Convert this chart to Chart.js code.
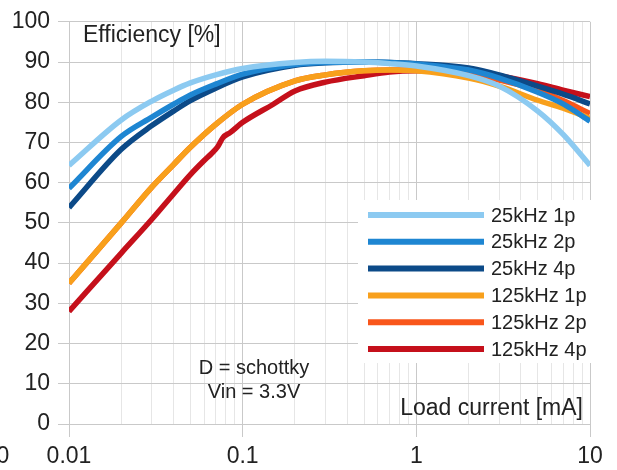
<!DOCTYPE html>
<html>
<head>
<meta charset="utf-8">
<script src="https://cdn.jsdelivr.net/npm/chart.js@4"></script>
<style>
  html, body { margin: 0; padding: 0; background: #fff; }
  canvas { display: block; }
</style>
</head>
<body>
<canvas id="eff" width="617" height="470"></canvas>
<script>
'use strict'

// load current [mA] (shared by most series)
const current = [0.01, 0.02, 0.03, 0.04, 0.05, 0.07, 0.1, 0.2, 0.3, 0.5, 0.7, 1, 2, 3, 5, 7, 10]

// efficiency [%]
const eff25k1p  = [64.3, 75.6, 80.3, 83.0, 84.8, 86.8, 88.4, 89.9, 90.2, 90.0, 89.6, 89.0, 86.6, 84.0, 77.8, 72.0, 64.3]
const eff25k2p  = [58.6, 71.5, 76.3, 79.5, 81.8, 84.5, 87.0, 89.4, 89.9, 90.0, 89.9, 89.5, 88.0, 86.0, 82.5, 79.6, 75.3]
const eff25k4p  = [53.8, 68.3, 74.2, 77.8, 80.4, 83.5, 86.3, 89.2, 89.8, 90.0, 89.9, 89.6, 88.5, 86.8, 84.0, 82.0, 79.6]
const eff125k1p = [35.0, 50.0, 58.9, 64.5, 68.8, 74.5, 79.5, 85.3, 86.8, 87.8, 88.0, 87.8, 86.0, 84.0, 80.5, 78.5, 76.0]
const eff125k2p = [35.0, 50.0, 58.9, 64.5, 68.8, 74.5, 79.5, 85.3, 86.8, 87.8, 88.0, 88.0, 87.2, 85.5, 83.0, 80.4, 77.2]

// 125kHz 4p has its own points (small wiggle around 0.07 mA)
const currentRed = [0.01, 0.02, 0.03, 0.04, 0.05, 0.06, 0.066, 0.072, 0.077, 0.085, 0.1, 0.15, 0.2, 0.3, 0.5, 0.7, 1, 2, 3, 5, 7, 10]
const eff125k4p  = [28.0, 42.5, 50.9, 57.2, 62.0, 65.5, 67.2, 69.0, 71.2, 72.5, 75.0, 79.5, 82.8, 85.0, 86.6, 87.5, 87.8, 87.6, 86.6, 84.6, 83.0, 81.4]

const labels = ['25kHz 1p', '25kHz 2p', '25kHz 4p', '125kHz 1p', '125kHz 2p', '125kHz 4p']
const colors = ['#8ccaf1', '#1e86d2', '#0c4a88', '#f8a01c', '#f9561b', '#c5101b']

const xTicks = [0.01, 0.02, 0.03, 0.04, 0.05, 0.06, 0.07, 0.08, 0.09,
                0.1, 0.2, 0.3, 0.4, 0.5, 0.6, 0.7, 0.8, 0.9,
                1, 2, 3, 4, 5, 6, 7, 8, 9, 10]
const xLabels = [0.01, 0.1, 1, 10]

const pairs = (xs, ys) => xs.map((x, i) => ({x: x, y: ys[i]}))
const series = [
  pairs(current, eff25k1p),
  pairs(current, eff25k2p),
  pairs(current, eff25k4p),
  pairs(current, eff125k1p),
  pairs(current, eff125k2p),
  pairs(currentRed, eff125k4p)
]

const FONT = "'Liberation Sans', Arial, sans-serif"
const MAJOR = '#c9c9c9'
const MINOR = '#e6e6e6'

const isDecade = v => xLabels.some(d => Math.abs(d - v) < 1e-9)

const overlay = {
  id: 'overlay',
  afterDraw(chart) {
    const c = chart.ctx
    c.save()
    c.fillStyle = '#222'
    c.textBaseline = 'middle'

    c.font = '23px ' + FONT
    c.textAlign = 'left'
    c.fillText('Efficiency [%]', 83, 36)
    c.textAlign = 'right'
    c.fillText('Load current [mA]', 583, 409)
    c.textAlign = 'center'
    c.fillText('0', 3, 457)

    c.font = '20px ' + FONT
    c.fillText('D = schottky', 254, 368)
    c.fillText('Vin = 3.3V', 254, 392)

    // legend box
    c.fillStyle = '#fff'
    c.fillRect(358, 200, 245, 163)
    c.font = '20px ' + FONT
    c.textAlign = 'left'
    labels.forEach((lab, i) => {
      const y = 215 + i * 26.8
      c.strokeStyle = colors[i]
      c.lineWidth = 6
      c.beginPath()
      c.moveTo(368, y)
      c.lineTo(484, y)
      c.stroke()
      c.fillStyle = '#222'
      c.fillText(lab, 491, y + 1)
    })
    c.restore()
  }
}

const config = {
  type: 'line',
  data: {
    datasets: series.map((d, i) => ({
      label: labels[i],
      data: d,
      borderColor: colors[i],
      backgroundColor: colors[i],
      borderWidth: 5.5,
      pointRadius: 0,
      cubicInterpolationMode: 'monotone',
      borderCapStyle: 'butt'
    }))
  },
  options: {
    responsive: false,
    animation: false,
    layout: {padding: {top: 21, right: 27, left: 0, bottom: 0}},
    plugins: {legend: {display: false}, tooltip: {enabled: false}},
    scales: {
      x: {
        type: 'logarithmic',
        min: 0.01,
        max: 10,
        afterBuildTicks: s => { s.ticks = xTicks.map(v => ({value: v})) },
        afterFit: s => { s.height = 46 },
        border: {display: true, color: MAJOR},
        grid: {
          color: ctx => isDecade(ctx.tick.value) ? MAJOR : MINOR,
          tickColor: ctx => isDecade(ctx.tick.value) ? MAJOR : 'rgba(0,0,0,0)',
          tickLength: 13
        },
        ticks: {
          autoSkip: false,
          maxRotation: 0,
          padding: 6,
          color: '#222',
          font: {family: FONT, size: 23},
          callback: v => isDecade(v) ? String(xLabels.find(d => Math.abs(d - v) < 1e-9)) : ''
        }
      },
      y: {
        min: 0,
        max: 100,
        afterFit: s => { s.width = 69 },
        border: {display: true, color: MAJOR},
        grid: {
          color: ctx => ctx.tick.value % 10 === 0 ? MAJOR : MINOR,
          tickColor: ctx => ctx.tick.value % 10 === 0 ? MAJOR : 'rgba(0,0,0,0)',
          tickLength: 11
        },
        ticks: {
          stepSize: 5,
          padding: 8,
          color: '#222',
          font: {family: FONT, size: 23},
          callback: v => v % 10 === 0 ? v : ''
        }
      }
    }
  },
  plugins: [overlay]
}

new Chart(document.querySelector('#eff'), config)
</script>
</body>
</html>
